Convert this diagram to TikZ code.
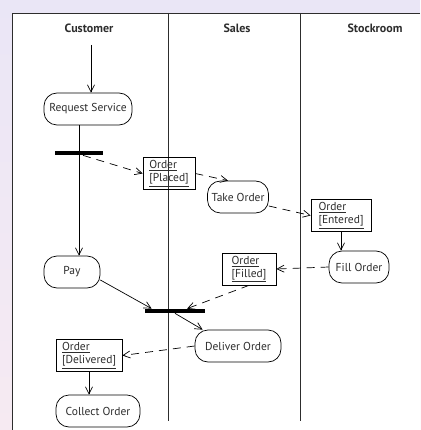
\documentclass[tikz,border=0pt]{standalone}
\usepackage{fontspec}
\setmainfont{PT Sans}
\usepackage{tikz}
\usetikzlibrary{shapes,arrows.meta}
\definecolor{lanebg}{RGB}{234,230,246}
\definecolor{lanepink}{RGB}{246,234,242}
\definecolor{inkgray}{RGB}{45,45,45}
\tikzset{barb/.style={-{Straight Barb[length=7pt,width=7pt]}}}
\newcommand{\lanehead}[3] {\node at (#1) (#2) [font=\bfseries\fontsize{12}{14}\selectfont, text=inkgray] {#3};}
\newcommand{\actstate}[4] {\node at (#1) (#2) [rectangle, draw, rounded corners=13pt, minimum width=#3, minimum height=32pt, inner sep=1pt, font=\fontsize{11.5}{13.5}\selectfont, text=inkgray] {#4};}
\newcommand{\objstate}[4] {\node at (#1) (#2) [rectangle, draw, minimum width=#3, minimum height=32pt, inner sep=1.5pt, align=left, font=\fontsize{11.5}{13}\selectfont, text=inkgray] {\underline{Order}\\\underline{[#4]}};}
\newcommand{\syncbar}[3] {\node at (#1) (#2) [rectangle, fill, minimum width=#3, minimum height=4pt, inner sep=0pt] {};}
\newcommand{\ctrlflow}[2] {\draw [barb] (#1) -- (#2);}
\newcommand{\objflow}[2] {\draw [barb, dash pattern=on 8pt off 6pt] (#1) -- (#2);}

\begin{document}
\begin{tikzpicture}[x=1pt, y=-1pt, line width=0.7pt]

% background and swimlanes
\shade [top color=lanebg, bottom color=lanepink] (0,0) rectangle (420,430);
\useasboundingbox (0,0) rectangle (420,430);
\fill [white] (12,13) rectangle (420,430);
\draw [inkgray] (420,13) -- (12,13) -- (12,430);
\draw [inkgray] (168,13) -- (168,421);
\draw [inkgray] (300,13) -- (300,421);

\lanehead{89,28}{customer}{Customer}
\lanehead{237,28}{sales}{Sales}
\lanehead{375,28}{stockroom}{Stockroom}

\coordinate (start) at (91,45);
\actstate{88,109}{request}{88pt}{Request Service}
\syncbar{79,153}{fork}{48pt}
\objstate{169,173.5}{placed}{52pt}{Placed}
\actstate{238,197}{take}{61pt}{Take Order}
\objstate{341,215.5}{entered}{60pt}{Entered}
\actstate{359,267}{fill}{60pt}{Fill Order}
\objstate{249,269}{filled}{54pt}{Filled}
\actstate{72,272}{pay}{56pt}{Pay}
\syncbar{175,311}{join}{60pt}
\actstate{238,346}{deliver}{86pt}{Deliver Order}
\objstate{89,355.5}{delivered}{66pt}{Delivered}
\actstate{98,411}{collect}{84pt}{Collect Order}

\ctrlflow{start}{start |- request.north}
\draw (request.south -| fork.center) -- (fork.center);
\ctrlflow{fork.center}{pay.north -| fork.center}
\objflow{[xshift=4pt]fork.south}{placed.west}
\objflow{placed.east}{[xshift=-10pt]take.north}
\objflow{[yshift=-9pt]take.east}{entered.west}
\ctrlflow{entered.south}{entered.south |- fill.north}
\objflow{fill.west}{filled.east}
\objflow{filled.south}{[xshift=12pt]join.north}
\ctrlflow{[yshift=-8pt]pay.east}{[xshift=7pt]join.north west}
\ctrlflow{join.south}{[xshift=8pt]deliver.north west}
\objflow{deliver.west}{delivered.east}
\ctrlflow{delivered.south}{delivered.south |- collect.north}

\end{tikzpicture}
\end{document}
